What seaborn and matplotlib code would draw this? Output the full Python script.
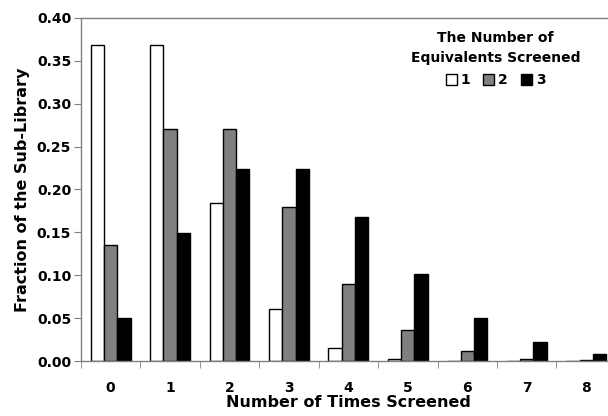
import pandas as pd
import seaborn as sns
import matplotlib.pyplot as plt
from matplotlib.ticker import MultipleLocator, FixedLocator

# Значения
times = [0, 1, 2, 3, 4, 5, 6, 7, 8]
equiv_1 = [0.368, 0.368, 0.184, 0.061, 0.015, 0.003, 0.0005, 0.0001, 0.0]
equiv_2 = [0.135, 0.271, 0.271, 0.180, 0.090, 0.036, 0.012, 0.003, 0.001]
equiv_3 = [0.050, 0.149, 0.224, 0.224, 0.168, 0.101, 0.050, 0.022, 0.008]
series_names = ['1', '2', '3']

df = pd.DataFrame({
    'times': times * 3,
    'fraction': equiv_1 + equiv_2 + equiv_3,
    'equiv': [s for s in series_names for _ in times],
})

sns.set_style('white')
plt.rcParams['font.family'] = ['DejaVu Sans']
plt.rcParams['font.weight'] = 'bold'
plt.rcParams['text.color'] = 'black'
plt.rcParams['axes.labelcolor'] = 'black'

fig = plt.figure(figsize=(6.08, 4.16), dpi=100)
ax = fig.add_axes([0.133, 0.132, 0.880, 0.825])

sns.barplot(data=df, x='times', y='fraction', hue='equiv',
            palette=['white', '#808080', 'black'], width=0.67,
            edgecolor='black', linewidth=1, saturation=1, ax=ax)

ax.set_ylim(0, 0.40)
ax.set_xlim(-0.5, 8.5)
ax.yaxis.set_major_locator(MultipleLocator(0.05))
ax.set_yticklabels([f'{v:.2f}' for v in ax.get_yticks()], fontsize=10, fontweight='bold')
ax.set_xticks(range(len(times)))
ax.set_xticklabels([str(t) for t in times], fontsize=10, fontweight='bold')
ax.xaxis.set_minor_locator(FixedLocator([t + 0.5 for t in range(-1, 9)]))
ax.tick_params(axis='x', which='major', length=0, pad=14, labelcolor='black')
ax.tick_params(axis='x', which='minor', length=5, color='#808080', direction='out', bottom=True)
ax.tick_params(axis='y', length=5, color='#808080', direction='out', left=True, pad=2,
               labelcolor='black')

for side in ['left', 'bottom', 'top']:
    ax.spines[side].set_color('#808080')
    ax.spines[side].set_linewidth(1)
ax.spines['right'].set_visible(False)

ax.set_xlabel('Number of Times Screened', fontsize=11.5, fontweight='bold', labelpad=0)
ax.set_ylabel('Fraction of the Sub-Library', fontsize=11.5, fontweight='bold', labelpad=5)

handles, labels = ax.get_legend_handles_labels()
leg = ax.legend(handles, labels, title='The Number of\nEquivalents Screened',
                ncol=3, frameon=False, loc='upper center',
                bbox_to_anchor=(0.815, 0.955), bbox_transform=fig.transFigure,
                handlelength=0.8, handleheight=0.8, handletextpad=0.3,
                columnspacing=0.9, labelspacing=0.6,
                prop={'size': 10, 'weight': 'bold'},
                title_fontproperties={'size': 10, 'weight': 'bold'})
leg.get_title().set_multialignment('center')
leg.get_title().set_linespacing(1.5)

fig.savefig('out.png', dpi=100)
